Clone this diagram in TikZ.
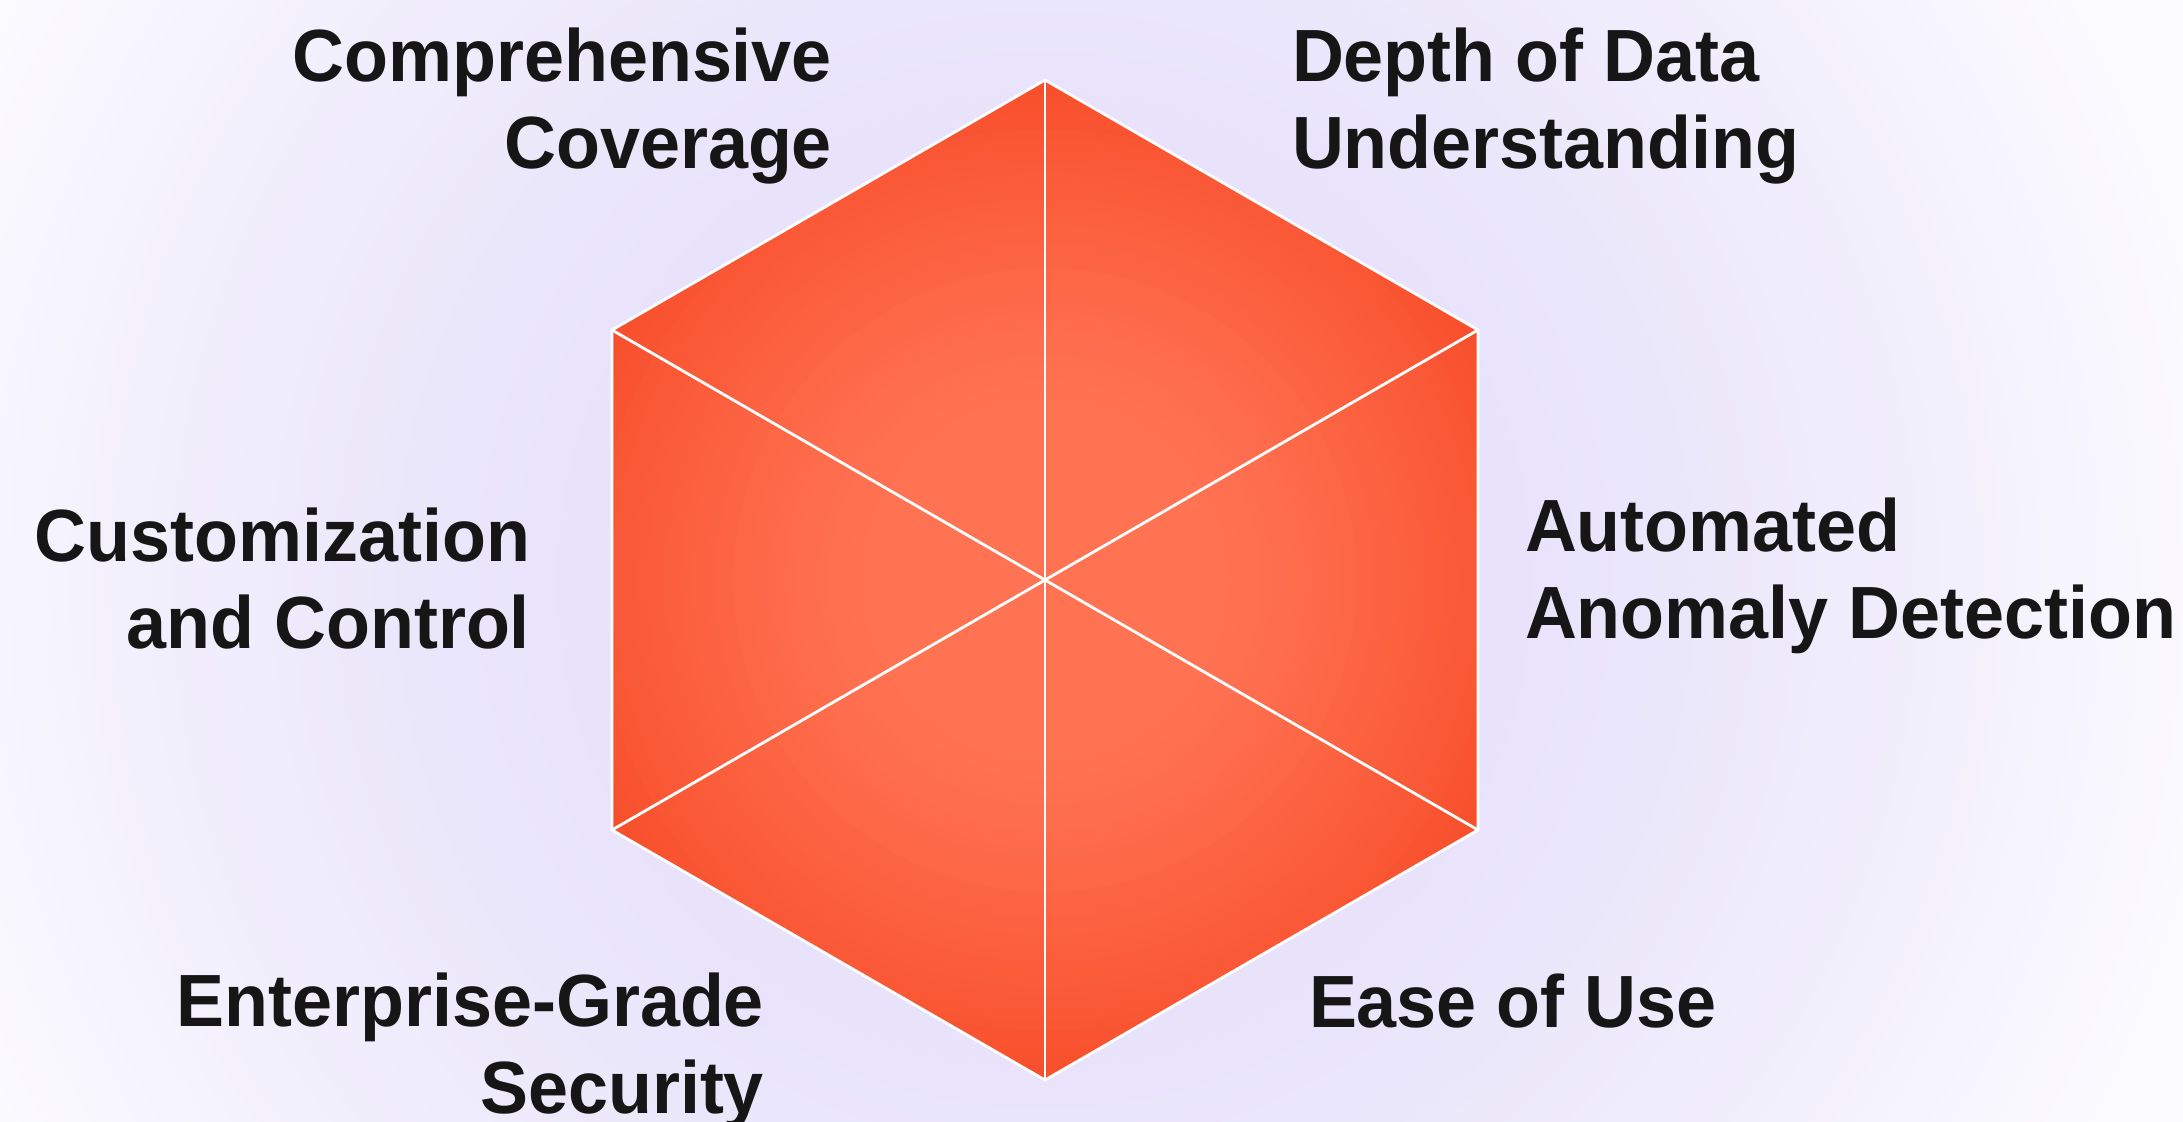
\documentclass[tikz,border=0pt]{standalone}
\usepackage{fontspec}
\newfontfamily\labelfont{Liberation Sans}[FakeStretch=0.972]
\definecolor{bgin}{HTML}{E6E1FA}
\definecolor{bgout}{HTML}{FCFBFF}
\definecolor{hexin}{HTML}{FF7252}
\definecolor{hexout}{HTML}{F84F2C}
\definecolor{txt}{HTML}{161616}
\tikzset{
  lbl/.style={inner sep=0pt, outer sep=0pt, text=txt, font=\labelfont\bfseries\fontsize{74}{86.5}\selectfont},
  edgeline/.style={draw=white, line width=2.8pt, line join=miter},
}
\begin{document}
\begin{tikzpicture}[x=1pt, y=-1pt]
\useasboundingbox (0,0) rectangle (2183,1121);
% background radial glow
\begin{scope}
\clip (0,0) rectangle (2183,1121);
\fill[bgout] (0,0) rectangle (2183,1121);
\foreach \i in {0,...,64}{
  \pgfmathsetmacro\rr{1300-\i*20.3125}
  \pgfmathsetmacro\q{max(0,min(1,(\rr-300)/900))}
  \pgfmathsetmacro\p{100*\q*sqrt(\q)}
  \fill[bgout!\p!bgin] (1045,580) circle[radius=\rr pt];
}
\end{scope}
\coordinate (C) at (1045,580);
\coordinate (T) at (1045,80);
\coordinate (UR) at (1478,330);
\coordinate (LR) at (1478,830);
\coordinate (B) at (1045,1080);
\coordinate (LL) at (612,830);
\coordinate (UL) at (612,330);
\begin{scope}
\clip (T) -- (UR) -- (LR) -- (B) -- (LL) -- (UL) -- cycle;
\foreach \i in {0,...,60}{
  \pgfmathsetmacro\rr{520-\i*8.6667}
  \pgfmathsetmacro\q{max(0,min(1,(\rr-180)/320))}
  \pgfmathsetmacro\p{100*\q*sqrt(sqrt(\q))}
  \fill[hexout!\p!hexin] (C) circle[radius=\rr pt];
}
\end{scope}
\draw[edgeline] (T) -- (UR) -- (LR) -- (B) -- (LL) -- (UL) -- cycle;
\draw[edgeline] (T) -- (B);
\draw[edgeline] (UL) -- (LR);
\draw[edgeline] (UR) -- (LL);
\node[lbl, align=right, anchor=base east] (cov) at (832,168) {Comprehensive\\Coverage};
\node[lbl, align=left, anchor=base west] (dep) at (1292,168) {Depth of Data\\Understanding};
\node[lbl, align=left, anchor=base west] (auto) at (1525,638) {Automated\\Anomaly Detection};
\node[lbl, align=right, anchor=base east] (cust) at (530,648) {Customization\\and Control};
\node[lbl, align=right, anchor=base east] (ent) at (764,1113) {Enterprise-Grade\\Security};
\node[lbl, anchor=base west] (ease) at (1309,1027) {Ease of Use};
\end{tikzpicture}
\end{document}
